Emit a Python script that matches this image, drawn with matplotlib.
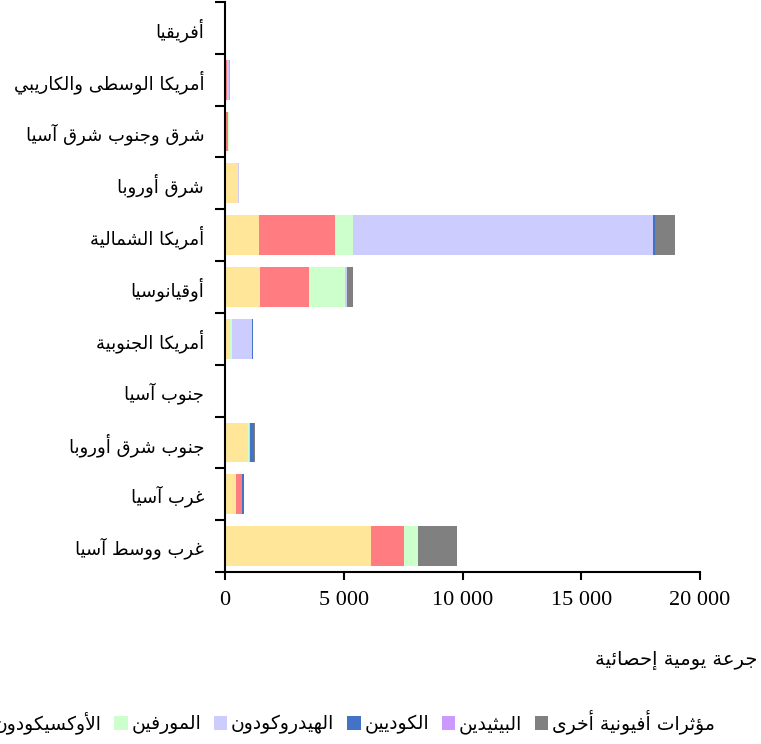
import matplotlib
matplotlib.use("Agg")
import matplotlib.pyplot as plt
from matplotlib.patches import Patch
from matplotlib.ticker import FuncFormatter, FixedLocator

# matplotlib has no arabic shaping, so do a small one by hand
DUAL = {'ب': 0xFE8F, 'ت': 0xFE95, 'ث': 0xFE99, 'ج': 0xFE9D, 'ح': 0xFEA1, 'خ': 0xFEA5,
        'س': 0xFEB1, 'ش': 0xFEB5, 'ص': 0xFEB9, 'ض': 0xFEBD, 'ط': 0xFEC1, 'ظ': 0xFEC5,
        'ع': 0xFEC9, 'غ': 0xFECD, 'ف': 0xFED1, 'ق': 0xFED5, 'ك': 0xFED9, 'ل': 0xFEDD,
        'م': 0xFEE1, 'ن': 0xFEE5, 'ه': 0xFEE9, 'ي': 0xFEF1, 'ئ': 0xFE89}
RIGHT = {'ا': 0xFE8D, 'أ': 0xFE83, 'إ': 0xFE87, 'آ': 0xFE81, 'ؤ': 0xFE85, 'ة': 0xFE93,
         'د': 0xFEA9, 'ذ': 0xFEAB, 'ر': 0xFEAD, 'ز': 0xFEAF, 'و': 0xFEED, 'ى': 0xFEEF}
LAMALEF = {'آ': 0xFEF5, 'أ': 0xFEF7, 'إ': 0xFEF9, 'ا': 0xFEFB}


def ar(s):
    out = []
    i = 0
    n = len(s)
    while i < n:
        ch = s[i]
        prev = s[i - 1] if i > 0 else ' '
        nxt = s[i + 1] if i + 1 < n else ' '
        pj = prev in DUAL
        if ch == 'ل' and nxt in LAMALEF:
            out.append(chr(LAMALEF[nxt] + (1 if pj else 0)))
            i += 2
            continue
        if ch in DUAL:
            nj = nxt in DUAL or nxt in RIGHT
            base = DUAL[ch]
            if pj and nj:
                c = base + 3
            elif nj:
                c = base + 2
            elif pj:
                c = base + 1
            else:
                c = base
            out.append(chr(c))
        elif ch in RIGHT:
            out.append(chr(RIGHT[ch] + (1 if pj else 0)))
        else:
            out.append(ch)
        i += 1
    return ''.join(out[::-1])


regions = ['أفريقيا', 'أمريكا الوسطى والكاريبي', 'شرق وجنوب شرق آسيا', 'شرق أوروبا',
           'أمريكا الشمالية', 'أوقيانوسيا', 'أمريكا الجنوبية', 'جنوب آسيا',
           'جنوب شرق أوروبا', 'غرب آسيا', 'غرب ووسط آسيا']

series_names = ['الفنتانيل', 'الأوكسيكودون', 'المورفين', 'الهيدروكودون',
                'الكوديين', 'البيثيدين', 'مؤثرات أفيونية أخرى']
colors = ['#FFE699', '#FF7C80', '#CCFFCC', '#CCCCFF', '#4472C4', '#CC99FF', '#808080']

fentanyl = [10, 30, 30, 540, 1445, 1475, 210, 5, 955, 460, 6150]
oxycodone = [5, 50, 110, 5, 3185, 2075, 20, 2, 30, 240, 1390]
morphine = [5, 10, 10, 10, 760, 1520, 60, 3, 45, 10, 590]
hydrocodone = [0, 90, 10, 20, 12630, 50, 860, 0, 10, 5, 0]
codeine = [2, 5, 5, 10, 100, 30, 10, 2, 190, 70, 10]
pethidine = [0, 5, 5, 0, 5, 5, 5, 0, 5, 5, 5]
other = [3, 10, 10, 10, 840, 215, 30, 5, 40, 10, 1640]

data = [fentanyl, oxycodone, morphine, hydrocodone, codeine, pethidine, other]

fig = plt.figure(figsize=(7.61, 7.44), dpi=100)
ax = fig.add_axes([225 / 761, 1 - 572 / 744, 475 / 761, 570 / 744])

y = list(range(len(regions)))
left = [0] * len(regions)
for vals, col, name in zip(data, colors, series_names):
    ax.barh(y, vals, left=left, height=0.77, color=col, linewidth=0, label=name)
    left = [a + b for a, b in zip(left, vals)]

ax.set_ylim(len(regions) - 0.5, -0.5)
ax.set_xlim(0, 20000)
ax.set_xticks([0, 5000, 10000, 15000, 20000])
ax.xaxis.set_major_formatter(FuncFormatter(lambda v, p: '{:,.0f}'.format(v).replace(',', ' ')))
for lab in ax.get_xticklabels():
    lab.set_fontfamily('Liberation Serif')
    lab.set_fontsize(16)

ax.set_yticks(y)
ax.set_yticklabels([ar(r) for r in regions], fontsize=13, family='DejaVu Sans')
ax.yaxis.set_minor_locator(FixedLocator([i - 0.5 for i in range(len(regions) + 1)]))
ax.tick_params(axis='y', which='major', length=0, pad=15)
ax.tick_params(axis='y', which='minor', length=7, width=1.5, direction='out')
ax.tick_params(axis='x', which='major', length=6, width=1.5, direction='out', pad=8)

for s in ['top', 'right']:
    ax.spines[s].set_visible(False)
for s in ['left', 'bottom']:
    ax.spines[s].set_linewidth(1.5)

fig.text(757 / 761, 1 - 660 / 744, ar('جرعة يومية إحصائية'), ha='right', va='center',
         fontsize=14, family='DejaVu Sans')

handles = [Patch(facecolor=c, edgecolor='none') for c in colors]
fig.legend(handles, [ar(n) for n in series_names], ncol=7, frameon=False,
           loc='center right', bbox_to_anchor=(715 / 761, 1 - 722 / 744),
           prop={'family': 'DejaVu Sans', 'size': 13.5},
           handlelength=0.7, handleheight=0.7, handletextpad=0.2, columnspacing=0.7,
           borderaxespad=0, borderpad=0)

fig.savefig('out.png', dpi=100)
